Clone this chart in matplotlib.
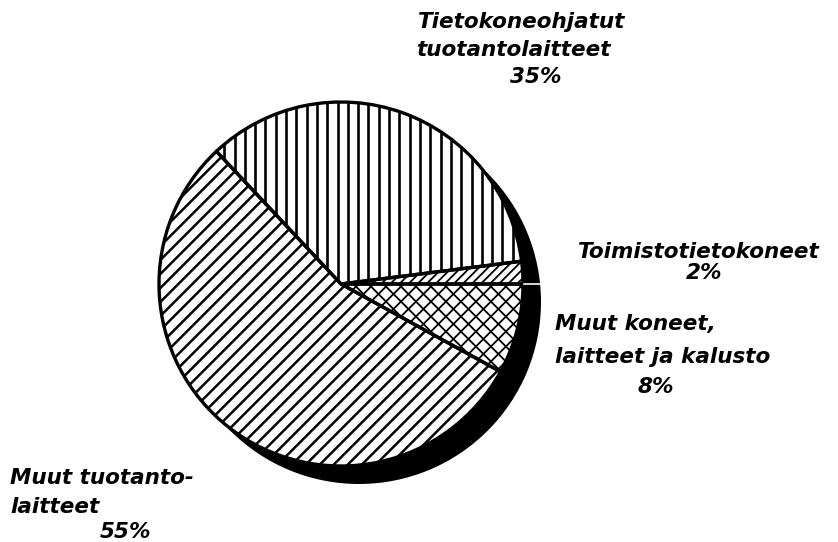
import numpy as np
import matplotlib
matplotlib.use("Agg")
import matplotlib.pyplot as plt
from matplotlib.collections import LineCollection
from matplotlib.patches import Circle, Wedge


# pie order: counter-clockwise from 3 o'clock
categories = ["Toimistotietokoneet",
              "Tietokoneohjatut tuotantolaitteet",
              "Muut tuotantolaitteet",
              "Muut koneet, laitteet ja kalusto"]
shares = [2, 35, 55, 8]

# label text as printed, one list of lines per slice
label_lines = [["Toimistotietokoneet", "2%"],
               ["Tietokoneohjatut", "tuotantolaitteet", "35%"],
               ["Muut tuotanto-", "laitteet", "55%"],
               ["Muut koneet,", "laitteet ja kalusto", "8%"]]

W, H = 838, 542


def img_y(y):
    # picture rows are counted from the top
    return H - y


def hatch(ax, wedge, angle, step, lw, cx, cy, r):
    # parallel lines across the whole disc, clipped to one wedge
    a = np.deg2rad(angle)
    d = np.array([np.cos(a), np.sin(a)])
    n = np.array([-d[1], d[0]])
    segs = []
    for o in np.arange(-r - step, r + step, step):
        p = np.array([cx, cy]) + o * n
        segs.append([p - (r + 5) * d, p + (r + 5) * d])
    lc = LineCollection(segs, colors="black", linewidths=lw, zorder=3)
    lc.set_clip_path(wedge)
    ax.add_collection(lc)


fig = plt.figure(figsize=(W / 100, H / 100), dpi=100)
ax = fig.add_axes([0, 0, 1, 1])

cx, cy, r = 341, img_y(284), 182

# black shadow under the disc
ax.add_patch(Circle((cx + 18, cy - 18), r, facecolor="black", edgecolor="none", zorder=1))

wedges, _ = ax.pie(shares, startangle=0, counterclock=True, center=(cx, cy), radius=r,
                   wedgeprops=dict(facecolor="white", edgecolor="none"))
for w in wedges:
    w.set_zorder(2)

# hatch styles per slice: angle, spacing (px), line width
styles = [(45, 6.4, 1.3), (90, 10.3, 1.9), (45, 9.9, 1.8), (None, 10.6, 1.3)]
for w, (ang, step, lw) in zip(wedges, styles):
    if ang is None:
        hatch(ax, w, 45, step, lw, cx, cy, r)
        hatch(ax, w, -45, step, lw, cx, cy, r)
    else:
        hatch(ax, w, ang, step, lw, cx, cy, r)

# outlines on top of the hatching
for w in wedges:
    ax.add_patch(Wedge(w.center, w.r, w.theta1, w.theta2, fill=False,
                       edgecolor="black", linewidth=2.4, zorder=4))

# small white gap continuing the 0 deg boundary through the shadow
ax.plot([cx + r + 1, cx + r + 22], [cy, cy], color="white", linewidth=1.2, zorder=5)

# label placement in picture pixels: (left x, centre y) of each line
label_pos = [[(578, 252), (686, 273)],
             [(418, 22), (416, 50), (510, 77)],
             [(10, 478), (10, 507), (100, 532)],
             [(555, 324), (555, 357), (638, 387)]]

font = dict(family="DejaVu Sans", weight="bold", style="italic", size=15.5, color="black")
for lines, pos in zip(label_lines, label_pos):
    for txt, (x, y) in zip(lines, pos):
        ax.text(x, img_y(y), txt, ha="left", va="center", **font)

ax.set_xlim(0, W)
ax.set_ylim(0, H)
ax.axis("off")

fig.savefig("out.png", dpi=100, facecolor="white")
